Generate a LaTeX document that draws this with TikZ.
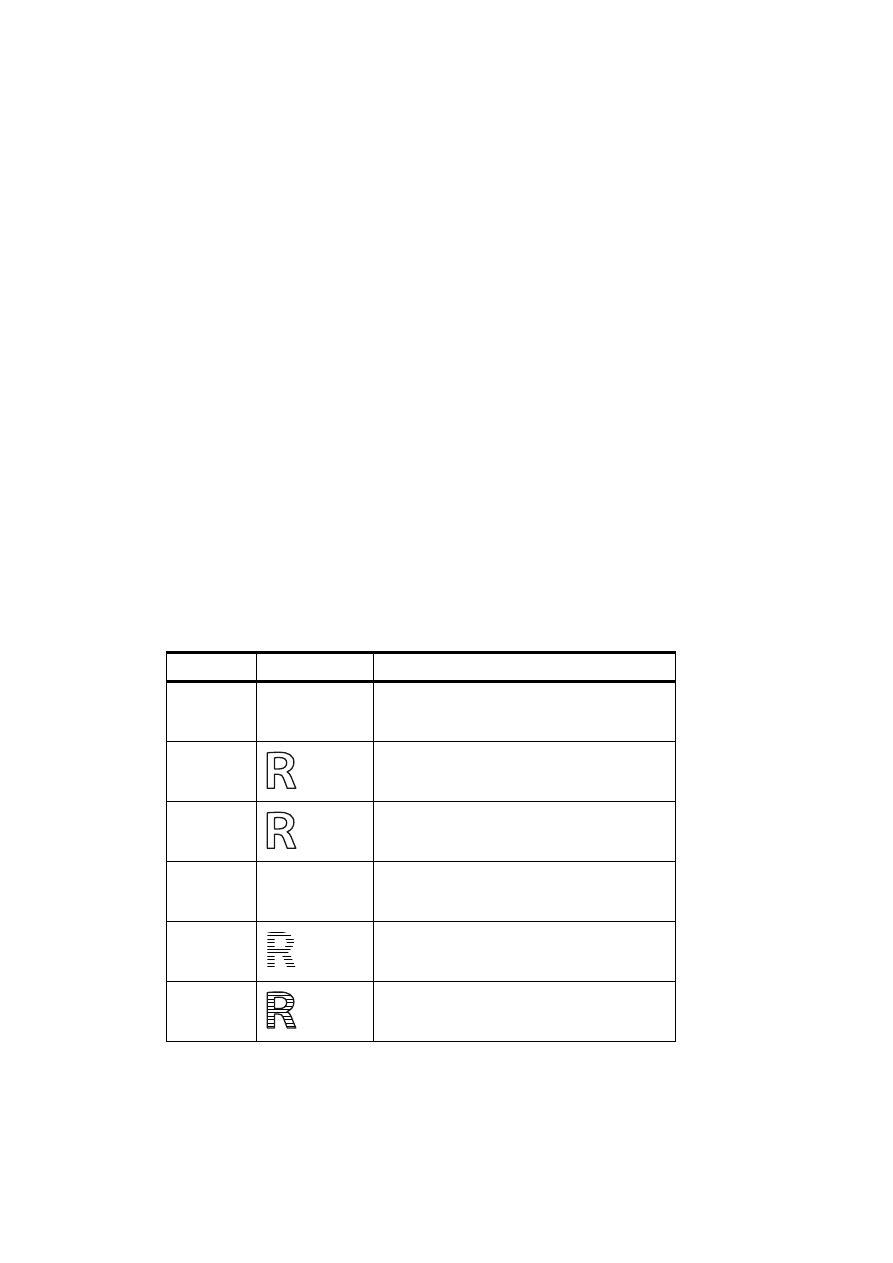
\documentclass[tikz,border=0pt]{standalone}
\tikzset{
  x=1pt,y=-1pt,
  thickrule/.style={line width=3pt,line cap=butt},
  thinrule/.style={line width=1pt,line cap=butt},
  glyphline/.style={line width=1.3pt,line join=round,black!90},
  hatchline/.style={line width=1pt,black}
}
% Outer contour of the letter in a box: x 0..28.5, y 0..36
\newcommand{\Router}{(0,0.6) -- (0,36) -- (7.2,36) -- (7.2,22) -- (11,22)
  .. controls (14,22) and (15.2,23.2) .. (16.2,26) -- (20,36) -- (28.5,36) -- (23.8,24.5)
  .. controls (22.8,22) and (21.5,20.4) .. (19.8,19.6)
  .. controls (24,17.8) and (26.6,14.4) .. (26.6,10)
  .. controls (26.6,3) and (20.5,0) .. (12.5,0)
  .. controls (7.5,0) and (3.5,0.1) .. (0,0.6) -- cycle}
\newcommand{\Rinner}{(7.2,5.6) .. controls (8.5,5.3) and (10,5.2) .. (12,5.2)
  .. controls (16.8,5.2) and (19.4,7) .. (19.4,10.6)
  .. controls (19.4,14.2) and (16.6,16.6) .. (12,16.6) -- (7.2,16.6) -- cycle}
\begin{document}
\begin{tikzpicture}
\useasboundingbox[fill=white] (0,0) rectangle (893,1263);
% table rules
\draw[thickrule] (166,652.5) -- (676,652.5);
\draw[thickrule] (166,681.5) -- (676,681.5);
\foreach \yy in {741.5,801.5,861.5,921.5,981.5,1041.5}
  \draw[thinrule] (166,\yy) -- (676,\yy);
\foreach \xx in {166.5,256.5,373.5,675.5}
  \draw[thinrule] (\xx,652) -- (\xx,1042);
% outlined letters
\begin{scope}[shift={(267.3,752.3)}]
  \draw[glyphline] \Router; \draw[glyphline] \Rinner;
\end{scope}
\begin{scope}[shift={(267.3,812.3)}]
  \draw[glyphline] \Router; \draw[glyphline] \Rinner;
\end{scope}
% hatch only
\begin{scope}[shift={(267.3,932)}]
  \begin{scope}
    \clip \Router;
    \foreach \yy in {0.4,3.82,...,35.6}
      \draw[hatchline] (-1,\yy) -- (30,\yy);
    \fill[white] \Rinner;
  \end{scope}
\end{scope}
% hatch and outline
\begin{scope}[shift={(267.3,992)}]
  \begin{scope}
    \clip \Router;
    \foreach \yy in {0.4,3.82,...,35.6}
      \draw[hatchline] (-1,\yy) -- (30,\yy);
    \fill[white] \Rinner;
  \end{scope}
  \draw[glyphline] \Router; \draw[glyphline] \Rinner;
\end{scope}
\end{tikzpicture}
\end{document}
